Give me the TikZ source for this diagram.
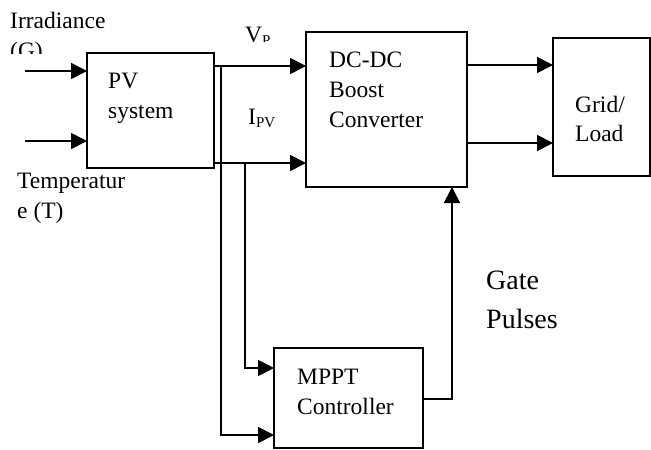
\documentclass[tikz,border=0pt]{standalone}
\usepackage{fontspec}
\setmainfont{Liberation Serif}
\usetikzlibrary{arrows.meta}
\begin{document}
\begin{tikzpicture}[x=1pt,y=-1pt,
  blk/.style={draw,line width=1.8pt,rectangle,inner sep=0,outer sep=0},
  conn/.style={line width=1.8pt},
  arr/.style={conn,-{Triangle[length=16pt,width=16pt]}},
  lbl/.style={anchor=base west,inner sep=0,font=\fontsize{23.5}{27}\selectfont},
  big/.style={anchor=base west,inner sep=0,font=\fontsize{28}{31}\selectfont}]
\useasboundingbox (0,0) rectangle (651,450);
% blocks
\node[blk,minimum width=127pt,minimum height=115pt] (pv) at (150.5,110.5) {};
\node[blk,minimum width=161pt,minimum height=155pt] (dc) at (386.5,109.5) {};
\node[blk,minimum width=97pt,minimum height=138pt] (grid) at (601.5,107) {};
\node[blk,minimum width=149pt,minimum height=100pt] (mppt) at (348.5,398) {};
% level coordinates
\coordinate (yg) at (0,71);
\coordinate (yt) at (0,141);
\coordinate (yvp) at (0,66);
\coordinate (yip) at (0,163);
\coordinate (yo1) at (0,65);
\coordinate (yo2) at (0,143);
\coordinate (ym1) at (0,368);
\coordinate (ym2) at (0,435);
\coordinate (ygp) at (0,399);
\coordinate (gin) at (25,71);
\coordinate (tin) at (25,141);
\coordinate (j1) at (221,66);
\coordinate (j2) at (245,163);
\coordinate (gx) at (452,0);
% connectors
\draw[arr] (gin) -- (pv.west |- yg);
\draw[arr] (tin) -- (pv.west |- yt);
\draw[arr] (pv.east |- yvp) -- (dc.west |- yvp);
\draw[arr] (pv.east |- yip) -- (dc.west |- yip);
\draw[arr] (dc.east |- yo1) -- (grid.west |- yo1);
\draw[arr] (dc.east |- yo2) -- (grid.west |- yo2);
\draw[arr] (j1) |- (mppt.west |- ym2);
\draw[arr] (j2) |- (mppt.west |- ym1);
\draw[arr] (mppt.east |- ygp) -| (dc.south -| gx);
% texts
\node[lbl] (irr) at (10,28) {Irradiance};
\begin{scope}
\clip (0,0) rectangle (200,53);
\node[lbl] (irrg) at (10,58) {(G)};
\end{scope}
\node[lbl] (tmp1) at (17,188) {Temperatur};
\node[lbl] (tmp2) at (17,218) {e (T)};
\begin{scope}
\clip (230,0) rectangle (300,41);
\node[lbl] (vp) at (245,42) {V\raisebox{-3pt}{\fontsize{15}{15}\selectfont P}};
\end{scope}
\node[lbl] (ipv) at (248,124) {I\raisebox{-3pt}{\fontsize{15}{15}\selectfont PV}};
\node[lbl] (pv1) at (108,88) {PV};
\node[lbl] (pv2) at (108,118) {system};
\node[lbl] (dc1) at (329,67) {DC-DC};
\node[lbl] (dc2) at (329,97) {Boost};
\node[lbl] (dc3) at (329,127) {Converter};
\node[lbl] (gr1) at (575,112) {Grid/};
\node[lbl] (gr2) at (575,141) {Load};
\node[lbl] (mp1) at (297,384) {MPPT};
\node[lbl] (mp2) at (297,414) {Controller};
\node[big] (gp1) at (486,289) {Gate};
\node[big] (gp2) at (486,328) {Pulses};
\end{tikzpicture}
\end{document}
